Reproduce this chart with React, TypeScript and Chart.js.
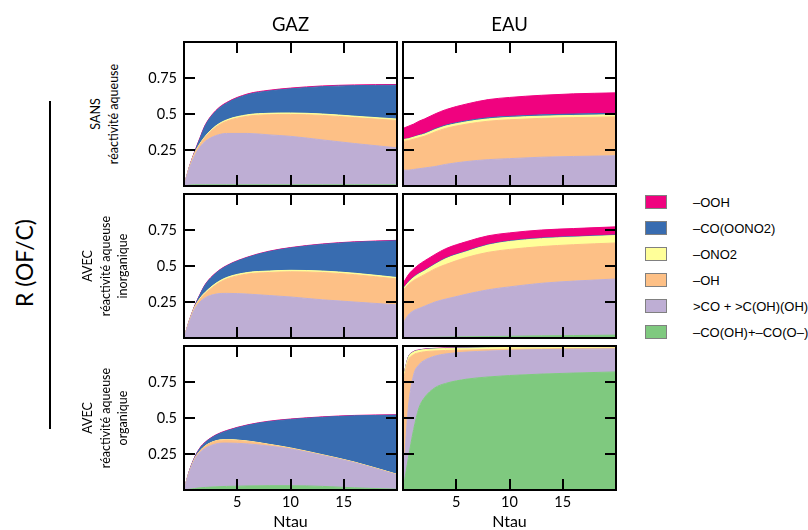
import React, { useEffect, useRef } from 'react';
import { Chart, registerables } from 'chart.js';

Chart.register(...registerables);

// ---------- data ----------
const NTAU = [0, 0.5, 1, 1.5, 2, 3, 4, 6, 8, 10, 13, 16, 20];
const X_MIN = 0;
const X_MAX = 20;
const Y_MIN = 0;
const Y_MAX = 1;
const X_TICKS = [5, 10, 15];
const Y_TICKS = [0.25, 0.5, 0.75];

const SERIES_LABELS = ['–CO(OH)+–CO(O–)', '>CO + >C(OH)(OH)', '–OH', '–ONO2', '–CO(OONO2)', '–OOH'];
const SERIES_COLORS = ['#7fc97f', '#beaed4', '#fdc086', '#ffff99', '#386cb0', '#f0027f'];
const COLUMN_TITLES = ['GAZ', 'EAU'];
const ROW_TITLES = ['SANS\nréactivité aqueuse', 'AVEC\nréactivité aqueuse\ninorganique', 'AVEC\nréactivité aqueuse\norganique'];

// GAZ, SANS réactivité aqueuse (layer thickness, bottom to top)
const GAZ_SANS_ACID = [0, 0.006, 0.008, 0.008, 0.008, 0.008, 0.008, 0.008, 0.008, 0.008, 0.008, 0.008, 0.008];
const GAZ_SANS_CARBONYL = [0, 0.114, 0.202, 0.262, 0.302, 0.342, 0.357, 0.357, 0.347, 0.337, 0.312, 0.287, 0.257];
const GAZ_SANS_OH = [0, 0.005, 0.015, 0.02, 0.03, 0.06, 0.085, 0.12, 0.14, 0.152, 0.17, 0.18, 0.19];
const GAZ_SANS_ONO2 = [0, 0.002, 0.003, 0.005, 0.006, 0.008, 0.009, 0.01, 0.01, 0.01, 0.01, 0.01, 0.01];
const GAZ_SANS_PAN = [0, 0.003, 0.007, 0.035, 0.074, 0.102, 0.116, 0.14, 0.155, 0.168, 0.19, 0.212, 0.235];
const GAZ_SANS_OOH = [0, 0.003, 0.004, 0.005, 0.005, 0.005, 0.005, 0.005, 0.005, 0.005, 0.005, 0.005, 0.005];

// EAU, SANS réactivité aqueuse
const EAU_SANS_ACID = [0.003, 0.003, 0.003, 0.003, 0.003, 0.003, 0.003, 0.003, 0.003, 0.003, 0.003, 0.003, 0.003];
const EAU_SANS_CARBONYL = [0.107, 0.107, 0.112, 0.117, 0.122, 0.132, 0.147, 0.167, 0.18, 0.187, 0.197, 0.202, 0.207];
const EAU_SANS_OH = [0.2, 0.205, 0.21, 0.215, 0.22, 0.24, 0.25, 0.26, 0.267, 0.27, 0.27, 0.27, 0.27];
const EAU_SANS_ONO2 = [0.012, 0.013, 0.014, 0.015, 0.015, 0.016, 0.016, 0.016, 0.016, 0.016, 0.015, 0.015, 0.015];
const EAU_SANS_PAN = [0, 0.001, 0.002, 0.003, 0.004, 0.005, 0.006, 0.007, 0.008, 0.008, 0.009, 0.01, 0.01];
const EAU_SANS_OOH = [0.078, 0.086, 0.089, 0.097, 0.101, 0.104, 0.108, 0.117, 0.126, 0.131, 0.136, 0.14, 0.142];

// GAZ, AVEC réactivité aqueuse inorganique
const GAZ_INORG_ACID = [0, 0.001, 0.002, 0.002, 0.002, 0.002, 0.002, 0.002, 0.002, 0.002, 0.002, 0.002, 0.002];
const GAZ_INORG_CARBONYL = [0, 0.109, 0.198, 0.248, 0.278, 0.303, 0.308, 0.303, 0.293, 0.283, 0.263, 0.248, 0.228];
const GAZ_INORG_OH = [0, 0.005, 0.01, 0.02, 0.03, 0.065, 0.1, 0.14, 0.16, 0.175, 0.19, 0.19, 0.18];
const GAZ_INORG_ONO2 = [0, 0.002, 0.004, 0.006, 0.008, 0.01, 0.01, 0.01, 0.01, 0.01, 0.01, 0.01, 0.01];
const GAZ_INORG_PAN = [0, 0.003, 0.006, 0.024, 0.052, 0.07, 0.08, 0.105, 0.135, 0.155, 0.185, 0.215, 0.255];
const GAZ_INORG_OOH = [0, 0.002, 0.003, 0.003, 0.003, 0.003, 0.003, 0.003, 0.003, 0.003, 0.003, 0.003, 0.003];

// EAU, AVEC réactivité aqueuse inorganique
const EAU_INORG_ACID = [0.002, 0.002, 0.003, 0.003, 0.004, 0.005, 0.006, 0.008, 0.01, 0.012, 0.015, 0.017, 0.02];
const EAU_INORG_CARBONYL = [0.098, 0.158, 0.187, 0.202, 0.216, 0.245, 0.264, 0.297, 0.325, 0.343, 0.365, 0.378, 0.39];
const EAU_INORG_OH = [0.23, 0.21, 0.21, 0.215, 0.22, 0.23, 0.24, 0.255, 0.26, 0.26, 0.255, 0.253, 0.25];
const EAU_INORG_ONO2 = [0.01, 0.015, 0.02, 0.025, 0.025, 0.03, 0.04, 0.04, 0.05, 0.055, 0.055, 0.052, 0.052];
const EAU_INORG_PAN = [0.002, 0.003, 0.003, 0.004, 0.004, 0.004, 0.004, 0.004, 0.004, 0.004, 0.004, 0.004, 0.004];
const EAU_INORG_OOH = [0.036, 0.051, 0.056, 0.061, 0.066, 0.066, 0.066, 0.066, 0.061, 0.056, 0.056, 0.056, 0.056];

// GAZ, AVEC réactivité aqueuse organique
const GAZ_ORG_ACID = [0, 0.005, 0.01, 0.015, 0.018, 0.022, 0.025, 0.028, 0.03, 0.03, 0.025, 0.015, 0.005];
const GAZ_ORG_CARBONYL = [0, 0.115, 0.2, 0.245, 0.272, 0.298, 0.301, 0.292, 0.275, 0.255, 0.215, 0.175, 0.1];
const GAZ_ORG_OH = [0, 0.003, 0.006, 0.01, 0.015, 0.02, 0.022, 0.018, 0.01, 0.005, 0.003, 0.002, 0.002];
const GAZ_ORG_ONO2 = [0, 0.001, 0.001, 0.002, 0.002, 0.002, 0.002, 0.002, 0.002, 0.002, 0.002, 0.002, 0.002];
const GAZ_ORG_PAN = [0, 0.006, 0.008, 0.018, 0.023, 0.038, 0.06, 0.11, 0.158, 0.198, 0.26, 0.321, 0.411];
const GAZ_ORG_OOH = [0, 0.002, 0.003, 0.003, 0.003, 0.003, 0.003, 0.003, 0.003, 0.003, 0.003, 0.003, 0.003];

// EAU, AVEC réactivité aqueuse organique
const EAU_ORG_ACID = [0, 0.22, 0.42, 0.57, 0.64, 0.71, 0.74, 0.77, 0.785, 0.795, 0.805, 0.812, 0.82];
const EAU_ORG_CARBONYL = [0.05, 0.35, 0.38, 0.3, 0.26, 0.22, 0.205, 0.188, 0.18, 0.175, 0.17, 0.166, 0.16];
const EAU_ORG_OH = [0.7, 0.33, 0.14, 0.083, 0.06, 0.036, 0.024, 0.014, 0.01, 0.008, 0.005, 0.004, 0.005];
const EAU_ORG_ONO2 = [0.02, 0.02, 0.018, 0.016, 0.015, 0.014, 0.014, 0.013, 0.013, 0.012, 0.012, 0.012, 0.012];
const EAU_ORG_PAN = [0.002, 0.002, 0.002, 0.002, 0.002, 0.002, 0.002, 0.002, 0.002, 0.002, 0.002, 0.002, 0.002];
const EAU_ORG_OOH = [0.002, 0.002, 0.002, 0.002, 0.002, 0.002, 0.002, 0.002, 0.002, 0.002, 0.002, 0.002, 0.002];

const PANELS = [
  { col: 0, row: 0, layers: [GAZ_SANS_ACID, GAZ_SANS_CARBONYL, GAZ_SANS_OH, GAZ_SANS_ONO2, GAZ_SANS_PAN, GAZ_SANS_OOH] },
  { col: 1, row: 0, layers: [EAU_SANS_ACID, EAU_SANS_CARBONYL, EAU_SANS_OH, EAU_SANS_ONO2, EAU_SANS_PAN, EAU_SANS_OOH] },
  { col: 0, row: 1, layers: [GAZ_INORG_ACID, GAZ_INORG_CARBONYL, GAZ_INORG_OH, GAZ_INORG_ONO2, GAZ_INORG_PAN, GAZ_INORG_OOH] },
  { col: 1, row: 1, layers: [EAU_INORG_ACID, EAU_INORG_CARBONYL, EAU_INORG_OH, EAU_INORG_ONO2, EAU_INORG_PAN, EAU_INORG_OOH] },
  { col: 0, row: 2, layers: [GAZ_ORG_ACID, GAZ_ORG_CARBONYL, GAZ_ORG_OH, GAZ_ORG_ONO2, GAZ_ORG_PAN, GAZ_ORG_OOH] },
  { col: 1, row: 2, layers: [EAU_ORG_ACID, EAU_ORG_CARBONYL, EAU_ORG_OH, EAU_ORG_ONO2, EAU_ORG_PAN, EAU_ORG_OOH] },
];

// ---------- layout ----------
const PANEL_W = 213;
const PANEL_H = 144;
const COL_X = [184, 403];
const ROW_Y = [42, 194, 346];
const MYRIAD = 'Lato, "Open Sans", sans-serif';
const TICK_LEN = 11;

// frame on the top and right edges of the chart area
const frameEdges = {
  id: 'frameEdges',
  afterDraw(chart: any) {
    const ctx = chart.ctx;
    const a = chart.chartArea;
    ctx.save();
    ctx.fillStyle = '#000';
    ctx.fillRect(a.left - 1, a.top - 1, a.right - a.left + 2, 2);
    ctx.fillRect(a.right - 1, a.top - 1, 2, a.bottom - a.top + 2);
    ctx.restore();
  },
};

function Panel({ col, row, layers }: { col: number; row: number; layers: number[][] }) {
  const ref = useRef<HTMLCanvasElement | null>(null);
  const showY = col === 0;
  const showX = row === 2;
  const L = showY ? 60 : 16;
  const T = 34;
  const R = 16;
  const B = 34;
  useEffect(() => {
    if (!ref.current) return;
    const chart = new Chart(ref.current, {
      type: 'line',
      data: {
        datasets: layers.map((arr, i) => ({
          label: SERIES_LABELS[i],
          data: NTAU.map((x, j) => ({ x, y: arr[j] })),
          backgroundColor: SERIES_COLORS[i],
          borderColor: SERIES_COLORS[i],
          borderWidth: 1,
          fill: i === 0 ? 'origin' : '-1',
          pointRadius: 0,
          cubicInterpolationMode: 'monotone',
        })),
      },
      options: {
        animation: false,
        responsive: false,
        events: [],
        layout: {
          padding: { left: showY ? 0 : L, top: T, right: R, bottom: showX ? 0 : B },
        },
        plugins: { legend: { display: false }, tooltip: { enabled: false } },
        scales: {
          x: {
            type: 'linear',
            min: X_MIN,
            max: X_MAX,
            display: true,
            grid: { display: false, drawTicks: false },
            border: { display: true, width: 2, color: '#000', z: 2 },
            afterFit: (s: any) => { s.height = showX ? B : 0; },
            ticks: {
              display: showX,
              stepSize: 5,
              color: '#000',
              font: { family: MYRIAD, size: 14.5 },
              padding: 4,
              maxRotation: 0,
              autoSkip: false,
              callback: (v: any) => (X_TICKS.includes(v) ? String(v) : ''),
            },
          },
          y: {
            type: 'linear',
            min: Y_MIN,
            max: Y_MAX,
            stacked: true,
            display: true,
            grid: { display: false, drawTicks: false },
            border: { display: true, width: 2, color: '#000', z: 2 },
            afterFit: (s: any) => { s.width = showY ? L : 0; },
            ticks: {
              display: showY,
              stepSize: 0.25,
              color: '#000',
              font: { family: MYRIAD, size: 14.5 },
              padding: 7,
              autoSkip: false,
              callback: (v: any) => (Y_TICKS.includes(v) ? String(v) : ''),
            },
          },
        },
      } as any,
      plugins: [frameEdges],
    });
    return () => chart.destroy();
  }, []);
  return (
    <canvas
      ref={ref}
      width={PANEL_W + L + R}
      height={PANEL_H + T + B}
      style={{ position: 'absolute', left: COL_X[col] - L, top: ROW_Y[row] - T, width: PANEL_W + L + R, height: PANEL_H + T + B }}
    />
  );
}

// inward tick marks on all four sides of every panel
function PanelTicks({ col, row }: { col: number; row: number }) {
  const x0 = COL_X[col];
  const y0 = ROW_Y[row];
  const marks: React.ReactNode[] = [];
  const tick = (key: string, left: number, top: number, w: number, h: number) =>
    marks.push(<div key={key} style={{ position: 'absolute', left, top, width: w, height: h, background: '#000' }} />);
  X_TICKS.forEach((v) => {
    const px = x0 + ((v - X_MIN) / (X_MAX - X_MIN)) * PANEL_W;
    tick('t' + v, px - 1, y0, 2, TICK_LEN);
    tick('b' + v, px - 1, y0 + PANEL_H - TICK_LEN, 2, TICK_LEN);
  });
  Y_TICKS.forEach((v) => {
    const py = y0 + PANEL_H - ((v - Y_MIN) / (Y_MAX - Y_MIN)) * PANEL_H;
    tick('l' + v, x0, py - 1, TICK_LEN, 2);
    tick('r' + v, x0 + PANEL_W - TICK_LEN, py - 1, TICK_LEN, 2);
  });
  return <>{marks}</>;
}

function Rotated({ cx, cy, text, size, lh }: { cx: number; cy: number; text: string; size: number; lh: number }) {
  return (
    <div
      style={{
        position: 'absolute',
        left: cx,
        top: cy,
        transform: 'translate(-50%, -50%) rotate(-90deg)',
        whiteSpace: 'pre',
        textAlign: 'center',
        fontFamily: MYRIAD,
        fontSize: size,
        lineHeight: lh + 'px',
        color: '#000',
      }}
    >
      {text}
    </div>
  );
}

function Centered({ cx, cy, text, size }: { cx: number; cy: number; text: string; size: number }) {
  return (
    <div
      style={{
        position: 'absolute',
        left: cx,
        top: cy,
        transform: 'translate(-50%, -50%)',
        whiteSpace: 'pre',
        fontFamily: MYRIAD,
        fontSize: size,
        lineHeight: '1',
        color: '#000',
      }}
    >
      {text}
    </div>
  );
}

export default function App() {
  const legendOrder = [5, 4, 3, 2, 1, 0];
  const rowLabelX = [104, 105, 105];
  return (
    <div style={{ position: 'fixed', left: 0, top: 0, width: 808, height: 530, background: '#fff', overflow: 'hidden' }}>
      {PANELS.map((p, i) => (
        <Panel key={i} col={p.col} row={p.row} layers={p.layers} />
      ))}
      {PANELS.map((p, i) => (
        <PanelTicks key={'tk' + i} col={p.col} row={p.row} />
      ))}
      {COLUMN_TITLES.map((t, c) => (
        <Centered key={t} cx={COL_X[c] + PANEL_W / 2} cy={24} text={t} size={18.5} />
      ))}
      {COL_X.map((x, c) => (
        <Centered key={'nt' + c} cx={x + PANEL_W / 2} cy={521} text="Ntau" size={16} />
      ))}
      {ROW_TITLES.map((t, r) => (
        <Rotated key={r} cx={rowLabelX[r]} cy={ROW_Y[r] + PANEL_H / 2} text={t} size={12.5} lh={17.5} />
      ))}
      <Rotated cx={24} cy={263} text="R (OF/C)" size={23} lh={28} />
      <div style={{ position: 'absolute', left: 49, top: 101, width: 1.5, height: 328, background: '#000' }} />
      {legendOrder.map((s, k) => (
        <div key={s}>
          <div
            style={{
              position: 'absolute',
              left: 645,
              top: 195 + k * 26,
              width: 20,
              height: 12,
              background: SERIES_COLORS[s],
              border: '1px solid #808080',
            }}
          />
          <div
            style={{
              position: 'absolute',
              left: 693,
              top: 201.5 + k * 26,
              transform: 'translateY(-50%)',
              fontFamily: '"Liberation Sans", Arial, sans-serif',
              fontSize: 13,
              lineHeight: '1',
              whiteSpace: 'pre',
              color: '#000',
            }}
          >
            {SERIES_LABELS[s]}
          </div>
        </div>
      ))}
    </div>
  );
}
